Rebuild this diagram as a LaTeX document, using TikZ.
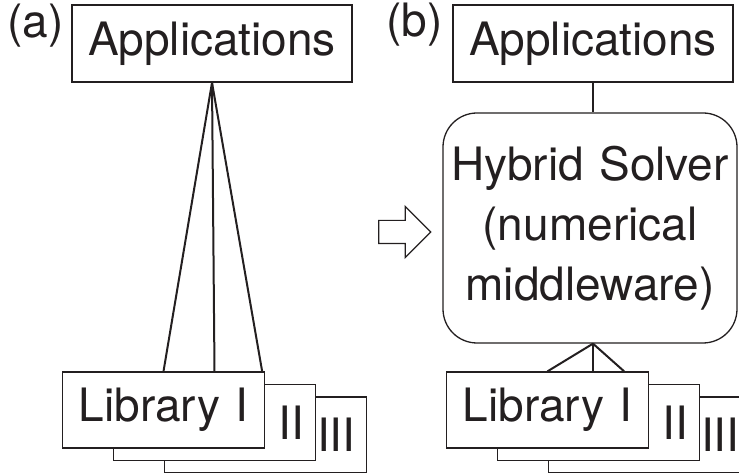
\documentclass[tikz,border=0pt]{standalone}
\usepackage{fontspec}
\setmainfont{TeX Gyre Heros}
\usetikzlibrary{positioning, shapes.arrows}
\definecolor{ink}{RGB}{35,31,32}

\begin{document}
\begin{tikzpicture}[
    x=1pt, y=1pt,
    every node/.append style={font=\fontsize{46}{60}\selectfont},
    box/.style={rectangle, draw=ink, line width=1.3pt, fill=white, text=ink,
                minimum width=280pt, minimum height=77pt, inner sep=0pt},
    lib/.style={box, minimum width=202pt, minimum height=76pt,
                text width=180pt, align=right},
    solver/.style={box, rounded corners=34pt, minimum width=294pt,
                   minimum height=230pt, text width=286pt, align=center},
    wire/.style={draw=ink, line width=2pt},
    tag/.style={text=ink, anchor=base east, inner sep=0pt}
]
\useasboundingbox (0,0) rectangle (739,473);
\clip (0,0) rectangle (739,473);

% (a) every application talks to every library
\node[box] (appA) at (212,429.5) {Applications};
\node[tag] (tagA) at (64,435.5) {(a)};
\node[lib] (libA3) at (265.5,38) {III};
\node[lib] (libA2) at ([shift={(-51,12.5)}]libA3) {II};
\node[lib, align=center] (libA1) at ([shift={(-51,12.5)}]libA2) {Library I};

\draw[wire] (appA.south) -- (libA1.north);
\draw[wire] (appA.south) -- (libA2.north |- libA1.north);
\draw[wire] (appA.south) -- ([xshift=-3pt]libA1.north east);

% hollow arrow between the panels
\node[single arrow, draw=ink, line width=1.2pt, inner sep=11pt,
      single arrow head extend=14pt, minimum height=52pt] (toB) at (399,241) {};

% (b) the hybrid solver sits in the middle
\node[box] (appB) at (593,429.5) {Applications};
\node[tag] (tagB) at (443,436) {(b)};
\node[solver] (hybrid) at (590,245) {Hybrid Solver\\(numerical\\middleware)};
\node[lib] (libB3) at (649.5,38) {III};
\node[lib] (libB2) at ([shift={(-51,12.5)}]libB3) {II};
\node[lib, align=center] (libB1) at ([shift={(-51,12.5)}]libB2) {Library I};

\coordinate (apex) at (appB.south |- hybrid.south);
\draw[wire] (appB.south) -- (appB.south |- hybrid.north);
\draw[wire] (apex) -- (libB1.north);
\draw[wire] (apex) -- (apex |- libB1.north);
\draw[wire] (apex) -- ([xshift=-25pt]libB1.north east);
\end{tikzpicture}
\end{document}
